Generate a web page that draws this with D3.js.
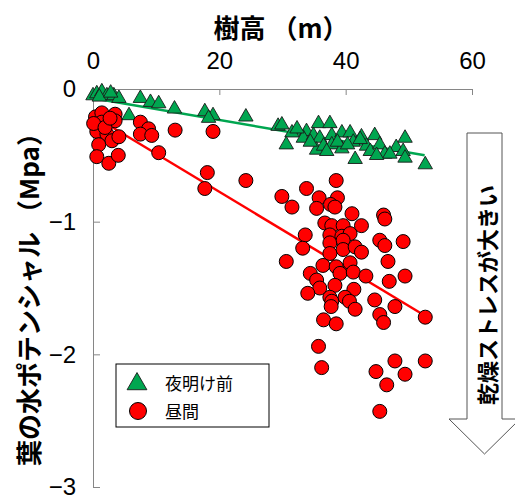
<!DOCTYPE html>
<html>
<head>
<meta charset="utf-8">
<script src="https://cdn.jsdelivr.net/npm/d3@7"></script>
<style>
  body { margin: 0; background: #fff; }
  text { font-family: "Liberation Sans", Arial, sans-serif; }
  .jp { font-family: "Noto Sans CJK JP", sans-serif; }
</style>
</head>
<body>
<svg width="515" height="495"></svg>
<script>
const svg = d3.select("svg");

// tick values / labels
const xTicks = [0, 20, 40, 60];
const yTicks = [0, -1, -2, -3];
const yTickLabels = ["0", "\u22121", "\u22122", "\u22123"];

// 夜明け前 (pre-dawn): tree height (m), leaf water potential (MPa)
const dawnHeight = [0.0, 0.6, 1.4, 2.2, 3.3, 4.1, 5.7, 7.5, 9.1, 10.4, 12.9, 17.7, 19.0, 18.3, 24.2, 29.3, 1.0, 2.8,
  29.9, 31.5, 30.6, 33.8, 33.3, 35.7, 37.5, 34.9, 35.9, 37.8, 39.4, 40.7, 42.5, 44.6, 49.4,
  35.4, 36.5, 37.8, 39.4, 41.2, 41.5, 43.3, 43.9, 45.4, 46.2, 48.0, 49.1, 49.4, 47.0, 52.6,
  34.4, 38.7, 40.3, 37.0, 44.9, 32.3, 42.3];
const dawnPsi = [-0.05, -0.035, -0.02, -0.05, -0.05, -0.07, -0.20, -0.07, -0.10, -0.11, -0.15, -0.17, -0.20, -0.22, -0.21, -0.28, -0.06, -0.03,
  -0.27, -0.33, -0.42, -0.32, -0.37, -0.26, -0.26, -0.35, -0.37, -0.35, -0.33, -0.33, -0.36, -0.35, -0.37,
  -0.46, -0.43, -0.42, -0.45, -0.40, -0.53, -0.43, -0.47, -0.42, -0.49, -0.44, -0.47, -0.52, -0.49, -0.57,
  -0.40, -0.40, -0.42, -0.47, -0.50, -0.30, -0.38];

// 昼間 (midday)
const dayHeight = [0.4, 1.4, 3.5, 1.4, 3.5, 0.6, 2.2, 3.0, 4.1, 0.9, 0.6, 2.5, 4.0, 7.5, 8.8, 7.5, 9.3, 13.0, 19.0, 10.4, 18.1, 17.7, 24.2,
  0.1, 1.9, 2.7,
  38.5, 29.9, 31.5, 33.8, 35.8, 38.7, 35.4, 37.6, 38.3, 41.0, 46.0, 46.2, 36.7, 37.8, 39.6, 42.5,
  33.6, 37.5, 39.4, 40.7, 45.4, 46.2, 49.1, 33.2, 37.5, 39.6, 39.6, 41.5, 42.5, 37.5, 40.7, 30.6,
  46.7, 36.4, 38.5, 34.4, 39.1, 41.2, 43.2, 49.4, 46.9, 35.4, 35.9, 38.3, 41.3, 34.0, 37.5, 39.9,
  37.8, 40.6, 44.6, 47.8, 37.7, 41.5, 45.4, 46.0, 36.5, 38.5, 52.6,
  35.7, 36.2, 44.8, 47.8, 52.6, 49.4, 46.5, 45.4];
const dayPsi = [-0.21, -0.18, -0.19, -0.25, -0.24, -0.32, -0.34, -0.39, -0.36, -0.42, -0.51, -0.56, -0.50, -0.25, -0.30, -0.34, -0.35, -0.31, -0.32, -0.48, -0.63, -0.75, -0.69,
  -0.26, -0.29, -0.22,
  -0.69, -0.81, -0.89, -0.75, -0.82, -0.82, -0.90, -0.87, -0.89, -0.94, -0.95, -0.98, -1.01, -1.03, -1.03, -1.03,
  -1.10, -1.10, -1.11, -1.09, -1.14, -1.18, -1.15, -1.20, -1.16, -1.14, -1.21, -1.19, -1.23, -1.24, -1.31, -1.30,
  -1.30, -1.33, -1.34, -1.39, -1.39, -1.38, -1.41, -1.41, -1.45, -1.44, -1.50, -1.48, -1.51, -1.54, -1.57, -1.57,
  -1.60, -1.60, -1.59, -1.64, -1.64, -1.66, -1.70, -1.76, -1.74, -1.77, -1.72,
  -1.94, -2.10, -2.13, -2.05, -2.05, -2.15, -2.23, -2.43];

// trend lines [x0, x1] and fitted values at both ends
const dawnTrendX = [0.5, 52.5];
const dawnTrendY = [-0.074, -0.50];
const dayTrendX = [1, 52.5];
const dayTrendY = [-0.23, -1.707];

const green = "#00a650";
const red = "#ff0000";
const gray = "#868686";

const x = d3.scaleLinear().domain([0, 60]).range([93, 472]);
const y = d3.scaleLinear().domain([0, -3]).range([89, 487]);

// axes
const xAxis = svg.append("g")
  .attr("transform", `translate(0,${y(0)})`)
  .call(d3.axisTop(x).tickValues(xTicks).tickFormat(d3.format("d"))
    .tickSizeInner(-6).tickSizeOuter(0).tickPadding(20));

const yAxis = svg.append("g")
  .attr("transform", `translate(${x(0)},0)`)
  .call(d3.axisLeft(y).tickValues(yTicks).tickFormat((d, i) => yTickLabels[i])
    .tickSizeInner(-7).tickSizeOuter(0).tickPadding(17));

[xAxis, yAxis].forEach(g => {
  g.select(".domain").attr("stroke", gray);
  g.selectAll(".tick line").attr("stroke", gray);
  g.selectAll(".tick text")
    .attr("fill", "#000")
    .style("font-size", "24px")
    .style("font-family", "'Liberation Sans', Arial, sans-serif");
});

// trend lines
const line = d3.line().x(d => x(d[0])).y(d => y(d[1]));
svg.append("path")
  .attr("d", line(d3.zip(dawnTrendX, dawnTrendY)))
  .attr("stroke", green).attr("stroke-width", 2.5).attr("fill", "none");
svg.append("path")
  .attr("d", line(d3.zip(dayTrendX, dayTrendY)))
  .attr("stroke", red).attr("stroke-width", 2.5).attr("fill", "none");

// pre-dawn triangles
const tri = d3.symbol().type(d3.symbolTriangle).size(90);
svg.append("g").selectAll("path")
  .data(d3.zip(dawnHeight, dawnPsi))
  .join("path")
  .attr("d", tri)
  .attr("transform", d => `translate(${x(d[0])},${y(d[1])})`)
  .attr("fill", green).attr("stroke", "#1a1a1a").attr("stroke-width", 0.9);

// midday circles
svg.append("g").selectAll("circle")
  .data(d3.zip(dayHeight, dayPsi))
  .join("circle")
  .attr("cx", d => x(d[0]))
  .attr("cy", d => y(d[1]))
  .attr("r", 7)
  .attr("fill", red).attr("stroke", "#000").attr("stroke-width", 1);

// titles
svg.append("text").attr("class", "jp")
  .attr("x", 281).attr("y", 26)
  .attr("text-anchor", "middle").attr("dominant-baseline", "central")
  .style("font-size", "26px").style("font-weight", "bold")
  .text("樹高 （m）");

svg.append("text").attr("class", "jp")
  .attr("transform", "translate(27,293) rotate(-90)")
  .attr("text-anchor", "middle").attr("dominant-baseline", "central")
  .style("font-size", "26px").style("font-weight", "bold")
  .text("葉の水ポテンシャル （Mpa）");

// legend
const legend = svg.append("g");
legend.append("rect")
  .attr("x", 116).attr("y", 364).attr("width", 153).attr("height", 63)
  .attr("fill", "#fff").attr("stroke", "#000").attr("stroke-width", 1);
legend.append("path")
  .attr("d", d3.symbol().type(d3.symbolTriangle).size(170)())
  .attr("transform", "translate(137,384)")
  .attr("fill", green).attr("stroke", "#1a1a1a").attr("stroke-width", 0.9);
legend.append("circle")
  .attr("cx", 138).attr("cy", 411).attr("r", 8.5)
  .attr("fill", red).attr("stroke", "#000");
legend.selectAll("text.lg")
  .data(["夜明け前", "昼間"])
  .join("text").attr("class", "jp lg")
  .attr("x", 165).attr("y", (d, i) => 382 + i * 28)
  .attr("dominant-baseline", "central")
  .style("font-size", "17px")
  .text(d => d);

// drought stress arrow
svg.append("path")
  .attr("d", "M467,133 L502,133 L502,419 L520,419 L484.5,454 L449,419 L467,419 Z")
  .attr("fill", "#fff").attr("stroke", "#555").attr("stroke-width", 1);
svg.append("text").attr("class", "jp")
  .attr("transform", "translate(486,295) rotate(-90)")
  .attr("text-anchor", "middle").attr("dominant-baseline", "central")
  .style("font-size", "22px").style("font-weight", "bold")
  .text("乾燥ストレスが大きい");
</script>
</body>
</html>
